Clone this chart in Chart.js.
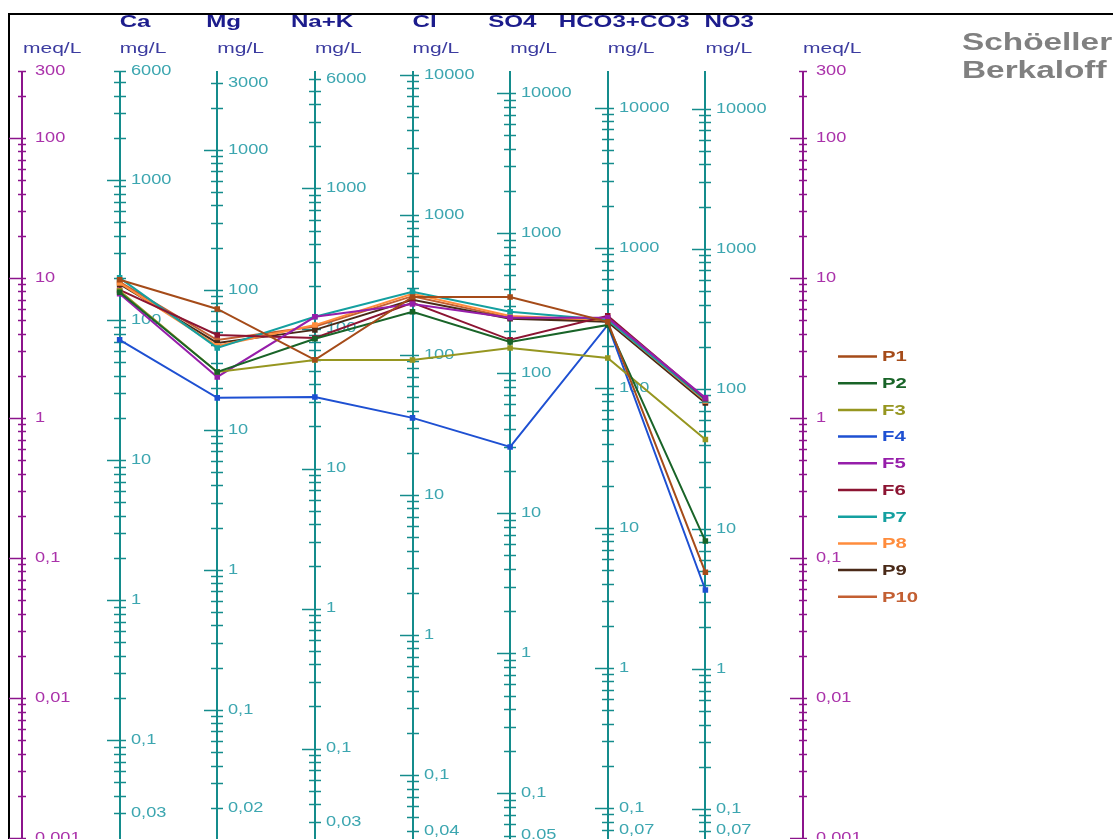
<!DOCTYPE html>
<html lang="en">
<head>
<meta charset="UTF-8">
<title>Schöeller Berkaloff</title>
<style>
    body { margin: 0; background: #fff; }
    #chart { display: block; }
</style>
</head>
<body>
<canvas id="chart" width="1113" height="839"></canvas>

<script src="https://cdn.jsdelivr.net/npm/chart.js"></script>
<script>
// ions along the diagram and their equivalent weights (mg per meq)
const ions = ['Ca', 'Mg', 'Na+K', 'Cl', 'SO4', 'HCO3+CO3', 'NO3'];
const eqWeight = [20.04, 12.15, 23.0, 35.45, 48.03, 61.02, 62.0];

// labelled mg/L ticks on each ion axis
const caLabels = [6000, 1000, 100, 10, 1, 0.1, 0.03];
const mgLabels = [3000, 1000, 100, 10, 1, 0.1, 0.02];
const naLabels = [6000, 1000, 100, 10, 1, 0.1, 0.03];
const clLabels = [10000, 1000, 100, 10, 1, 0.1, 0.04];
const so4Labels = [10000, 1000, 100, 10, 1, 0.1, 0.05];
const hco3Labels = [10000, 1000, 100, 10, 1, 0.1, 0.07];
const no3Labels = [10000, 1000, 100, 10, 1, 0.1, 0.07];
const ionLabels = [caLabels, mgLabels, naLabels, clLabels, so4Labels, hco3Labels, no3Labels];

// labelled meq/L ticks on the outer axes
const meqLabels = [300, 100, 10, 1, 0.1, 0.01, 0.001];

// samples, values in meq/L (Ca, Mg, Na+K, Cl, SO4, HCO3+CO3, NO3)
const samples = ['P1', 'P2', 'F3', 'F4', 'F5', 'F6', 'P7', 'P8', 'P9', 'P10'];
const P1 = [9.7, 6.0, 2.6, 7.3, 7.3, 4.85, 0.079];
const P2 = [7.9, 2.13, 3.67, 5.72, 3.49, 4.61, 0.132];
const F3 = [8.1, 2.13, 2.59, 2.59, 3.16, 2.68, 0.70];
const F4 = [3.61, 1.39, 1.41, 1.0, 0.62, 4.61, 0.059];
const F5 = [7.7, 1.96, 5.27, 6.5, 5.18, 5.18, 1.39];
const F6 = [8.2, 3.91, 3.72, 6.63, 3.61, 5.35, 1.37];
const P7 = [10.0, 3.16, 5.27, 7.94, 5.72, 5.0, 1.34];
const P8 = [9.2, 3.27, 4.6, 7.7, 5.35, 5.0, 1.32];
const P9 = [9.0, 3.43, 4.25, 6.96, 5.1, 4.85, 1.28];
const P10 = [9.35, 3.6, 4.5, 7.4, 5.2, 4.9, 1.30];
const series = [P1, P2, F3, F4, F5, F6, P7, P8, P9, P10];
const colors = ['#a54b19', '#196428', '#969620', '#1e50d2', '#961eaa',
                '#8c1432', '#14a0a0', '#ff8c3c', '#4a2a18', '#c35f32'];

// header text offsets from each ion axis
const headerDx = [0, -11, -24, 0, -22, -49, -1];

const FONT = '"Liberation Sans", Arial, sans-serif';

function stretchText(ctx, s, x, y, sx) {
    ctx.save();
    ctx.translate(x, y);
    ctx.scale(sx, 1);
    ctx.fillText(s, 0, 0);
    ctx.restore();
}

function fmt(v) {
    return String(v).replace('.', ',');
}

// one vertical log axis, w converts axis units to meq/L
function drawScale(ctx, chart, xVal, w, labels, opt) {
    var xs = chart.scales.x, ys = chart.scales.y;
    var x = Math.round(xs.getPixelForValue(xVal));
    var top = ys.getPixelForValue(ys.max);
    ctx.strokeStyle = opt.line;
    ctx.lineWidth = 2;
    ctx.beginPath();
    ctx.moveTo(x, top);
    ctx.lineTo(x, chart.height);
    ctx.stroke();

    var lo = ys.min * w, hi = ys.max * w;
    ctx.lineWidth = 1.5;
    for (var k = Math.floor(Math.log10(lo)); k <= Math.ceil(Math.log10(hi)); k++) {
        for (var d = 1; d <= 9; d++) {
            var v = d * Math.pow(10, k);
            if (v < lo * 0.9999 || v > hi * 1.0001) continue;
            var y = Math.round(ys.getPixelForValue(v / w)) + 0.5;
            ctx.beginPath();
            ctx.moveTo(x - (d === 1 ? opt.major : opt.minor), y);
            ctx.lineTo(x + opt.right, y);
            ctx.stroke();
        }
    }

    ctx.fillStyle = opt.text;
    ctx.font = '14px ' + FONT;
    ctx.textBaseline = 'middle';
    ctx.textAlign = 'left';
    labels.forEach(function (v) {
        stretchText(ctx, fmt(v), x + opt.dx, ys.getPixelForValue(v / w), 1.3);
    });
}

const diagramPlugin = {
    id: 'schoeller',
    beforeDatasetsDraw(chart) {
        var ctx = chart.ctx, xs = chart.scales.x;
        ctx.save();

        // frame
        ctx.strokeStyle = '#000';
        ctx.lineWidth = 2;
        ctx.beginPath();
        ctx.moveTo(9, chart.height);
        ctx.lineTo(9, 14);
        ctx.lineTo(chart.width, 14);
        ctx.stroke();

        // headers and units
        ctx.textBaseline = 'alphabetic';
        ctx.textAlign = 'left';
        ions.forEach(function (name, i) {
            var x = xs.getPixelForValue(i + 1);
            ctx.fillStyle = '#1c1c8c';
            ctx.font = 'bold 17px ' + FONT;
            stretchText(ctx, name, x + headerDx[i], 27, 1.42);
            ctx.fillStyle = '#3c3ca0';
            ctx.font = '14px ' + FONT;
            stretchText(ctx, 'mg/L', x, 53, 1.5);
        });
        ctx.fillStyle = '#3c3ca0';
        ctx.font = '14px ' + FONT;
        stretchText(ctx, 'meq/L', xs.getPixelForValue(0) + 1, 53, 1.5);
        stretchText(ctx, 'meq/L', xs.getPixelForValue(8), 53, 1.5);

        // meq/L axes
        var meqOpt = { line: '#8c148c', text: '#aa32aa', minor: 4, major: 13, right: 4, dx: 13 };
        drawScale(ctx, chart, 0, 1, meqLabels, meqOpt);
        drawScale(ctx, chart, 8, 1, meqLabels, meqOpt);

        // ion axes in mg/L
        var ionOpt = { line: '#148c8c', text: '#3ca6b0', minor: 6, major: 13, right: 6, dx: 11 };
        ions.forEach(function (name, i) {
            drawScale(ctx, chart, i + 1, eqWeight[i], ionLabels[i], ionOpt);
        });
        ctx.restore();
    },
    afterDatasetsDraw(chart) {
        var ctx = chart.ctx;
        ctx.save();
        ctx.textAlign = 'left';
        ctx.textBaseline = 'alphabetic';
        ctx.fillStyle = '#808080';
        ctx.font = 'bold 23px ' + FONT;
        stretchText(ctx, 'Schöeller', 962, 50, 1.45);
        stretchText(ctx, 'Berkaloff', 962, 78, 1.45);

        // legend
        ctx.textBaseline = 'middle';
        ctx.font = 'bold 14px ' + FONT;
        chart.data.datasets.forEach(function (ds, i) {
            var y = 356.5 + i * 26.7;
            ctx.strokeStyle = ds.borderColor;
            ctx.lineWidth = 2.5;
            ctx.beginPath();
            ctx.moveTo(838, y);
            ctx.lineTo(877, y);
            ctx.stroke();
            ctx.fillStyle = ds.borderColor;
            stretchText(ctx, ds.label, 882, y + 1, 1.45);
        });
        ctx.restore();
    }
};

var datasets = series.map(function (vals, s) {
    return {
        label: samples[s],
        data: vals.map(function (v, i) { return { x: i + 1, y: v }; }),
        borderColor: colors[s],
        backgroundColor: colors[s],
        borderWidth: 2,
        pointStyle: 'rect',
        pointRadius: 2.5,
        tension: 0
    };
});

new Chart(document.getElementById('chart').getContext('2d'), {
    type: 'line',
    data: { datasets: datasets },
    options: {
        responsive: false,
        animation: false,
        devicePixelRatio: 1,
        layout: { autoPadding: false, padding: { left: 22, right: 310, top: 71, bottom: 1 } },
        scales: {
            x: { type: 'linear', min: 0, max: 8, display: false },
            y: { type: 'logarithmic', min: 0.001, max: 300, display: false }
        },
        plugins: {
            legend: { display: false },
            tooltip: { enabled: false }
        }
    },
    plugins: [diagramPlugin]
});
</script>
</body>
</html>
